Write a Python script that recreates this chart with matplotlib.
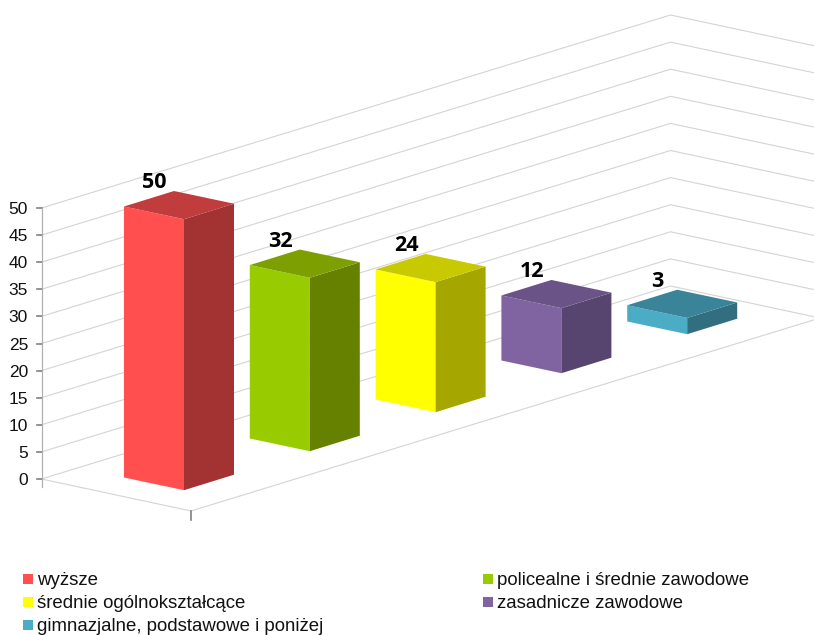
import matplotlib
matplotlib.use("Agg")
import matplotlib.pyplot as plt
from matplotlib.patches import Polygon, Rectangle

# Data
categories = ["wyższe", "policealne i średnie zawodowe", "średnie ogólnokształcące",
              "zasadnicze zawodowe", "gimnazjalne, podstawowe i poniżej"]
values = [50, 32, 24, 12, 3]
y_ticks = [0, 5, 10, 15, 20, 25, 30, 35, 40, 45, 50]

front_colors = ["#FF4F4F", "#99CC00", "#FFFF00", "#8064A2", "#4BACC6"]
side_colors = ["#A33333", "#668000", "#A6A600", "#574570", "#316F80"]
top_colors = ["#C13D3D", "#7E9F00", "#C9C900", "#6A5487", "#3A8499"]

# Oblique projection of the 3D chart, in pixels
UNIT = 5.42        # pixels per value unit
ORIGIN = (41.5, 479)
WALL = (629, -193)   # left wall, going back
FLOOR = (149.5, 32)  # floor, going right
BAR_W = (60, 12.7)
BAR_D = (50, -15.5)
BAR_START = (124, 477.5)
BAR_STEP = (125.8, -39)
GRID = "#D4D4D4"
AXIS = "#B0B0B0"


def add(p, d, k=1.0):
    return (p[0] + d[0] * k, p[1] + d[1] * k)


def lift(p, v):
    return (p[0], p[1] - v * UNIT)


fig = plt.figure(figsize=(8.14, 6.35), dpi=100)
ax = fig.add_axes([0, 0, 1, 1])
ax.set_xlim(0, 814)
ax.set_ylim(635, 0)
ax.axis("off")

# Walls
for t in y_ticks:
    p0 = lift(ORIGIN, t)
    p1 = add(p0, WALL)
    p2 = add(p1, FLOOR)
    ax.plot([p0[0], p1[0], p2[0]], [p0[1], p1[1], p2[1]], color=GRID, lw=0.8, zorder=1)
    ax.plot([p0[0] - 5, p0[0]], [p0[1], p0[1]], color="#808080", lw=1.2, zorder=2)
    ax.text(28, p0[1] + 6, str(t), ha="right", va="baseline", fontsize=12.5,
            family="Liberation Sans", color="#111111")

# Floor and axes
front = add(ORIGIN, FLOOR)
right = add(front, WALL)
ax.plot([ORIGIN[0], front[0], right[0]], [ORIGIN[1], front[1], right[1]], color=GRID, lw=0.8, zorder=1)
ax.plot([ORIGIN[0], ORIGIN[0]], [ORIGIN[1] + 8, lift(ORIGIN, 50)[1]], color=AXIS, lw=0.9, zorder=2)
ax.plot([front[0], front[0]], [front[1], front[1] + 9], color="#808080", lw=1.2, zorder=2)

# Bars
for i, v in enumerate(values):
    a = add(BAR_START, BAR_STEP, i)
    b = add(a, BAR_W)
    c = add(b, BAR_D)
    d = add(a, BAR_D)
    at, bt, ct, dt = lift(a, v), lift(b, v), lift(c, v), lift(d, v)
    ax.add_patch(Polygon([a, b, bt, at], closed=True, fc=front_colors[i], ec="none", zorder=3))
    ax.add_patch(Polygon([b, c, ct, bt], closed=True, fc=side_colors[i], ec="none", zorder=3))
    ax.add_patch(Polygon([at, bt, ct, dt], closed=True, fc=top_colors[i], ec="none", zorder=3))
    ax.text(at[0] + 30.5, dt[1] - 2.5, str(v), ha="center", va="baseline", fontsize=15.5,
            family="Open Sans", fontweight="bold", color="black", zorder=4)

# Legend
legend_x = [23, 483, 23, 483, 23]
legend_y = [579, 579, 602, 602, 625]
for name, col, x, y in zip(categories, front_colors, legend_x, legend_y):
    ax.add_patch(Rectangle((x, y - 5), 10, 10, fc=col, ec="none"))
    ax.text(x + 14, y + 6, name, ha="left", va="baseline", fontsize=13.4,
            family="Liberation Sans", color="#111111")

fig.savefig("out.png", dpi=100)
